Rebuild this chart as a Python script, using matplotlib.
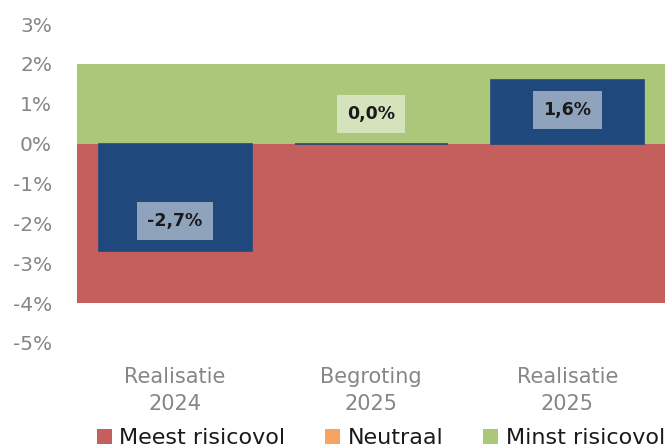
import matplotlib
matplotlib.use("Agg")
from matplotlib import pyplot as plt

# gegevens
categorieen = ["Realisatie\n2024", "Begroting\n2025", "Realisatie\n2025"]
resultaat = [-2.7, 0.0, 1.6]
meest_risicovol = [-4, -4, -4]
neutraal = [0, 0, 0]
minst_risicovol = [2, 2, 2]
y_ticks = [-5, -4, -3, -2, -1, 0, 1, 2, 3]

plt.rcParams['font.family'] = ['DejaVu Sans']

fig = plt.figure(figsize=(6.65, 4.48), dpi=100)
ax = fig.add_axes([0.1158, 0.2344, 0.885, 0.712])

x = range(len(categorieen))
rood = '#c45f5e'
oranje = '#f7a462'
groen = '#abc87a'
blauw = '#1f487c'

# achtergrondbanden
b1 = ax.bar(x, meest_risicovol, width=1.0, color=rood, label='Meest risicovol')
b2 = ax.bar(x, neutraal, width=1.0, color=oranje, label='Neutraal')
b3 = ax.bar(x, minst_risicovol, width=1.0, color=groen, label='Minst risicovol')

# resultaat
staven = ax.bar(x, resultaat, width=0.78, color=blauw, edgecolor=blauw, linewidth=1.2)

for i, v in enumerate(resultaat):
    tekst = f"{v:.1f}%".replace('.', ',')
    dy = 21.6 if v <= 0 else -21.6
    ax.annotate(tekst, (i, v), xytext=(0, dy), textcoords='offset points',
                ha='center', va='center', fontsize=12.5, fontweight='bold', color='#1a1a1a',
                bbox=dict(boxstyle='square,pad=0.58', facecolor='white', edgecolor='none', alpha=0.5))

ax.set_xlim(-0.5, 2.5)
ax.set_ylim(-5, 3)
ax.set_yticks(y_ticks)
ax.set_yticklabels([f"{t}%" for t in y_ticks], fontsize=14.5, color='#868686')
ax.set_xticks(list(x))
ax.set_xticklabels(categorieen, fontsize=15, color='#868686', linespacing=1.45)
ax.tick_params(length=0)
ax.tick_params(axis='y', pad=18)
ax.tick_params(axis='x', pad=17)
for s in ax.spines.values():
    s.set_visible(False)

leg = fig.legend(handles=[b1, b2, b3], loc='center', bbox_to_anchor=(0.573, 0.022), ncol=3,
                 frameon=False, fontsize=16, handlelength=0.65, handleheight=0.65,
                 handletextpad=0.35, columnspacing=1.8)
for t in leg.get_texts():
    t.set_color('#1a1a1a')

fig.savefig('out.png', dpi=100)
